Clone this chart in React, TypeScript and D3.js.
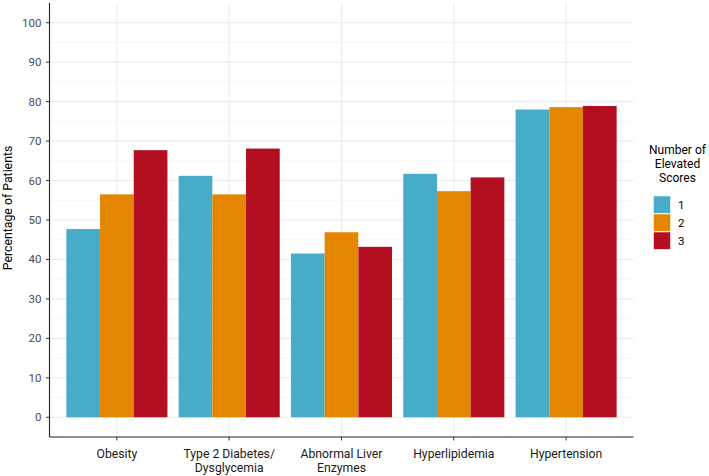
import React from "react";
import * as d3 from "d3";

const categories = ["Obesity", "Type 2 Diabetes/\nDysglycemia", "Abnormal Liver\nEnzymes", "Hyperlipidemia", "Hypertension"];
const groups = ["1", "2", "3"];
const series1 = [47.7, 61.2, 41.5, 61.7, 78.0];
const series2 = [56.5, 56.5, 46.9, 57.3, 78.6];
const series3 = [67.7, 68.1, 43.2, 60.8, 78.9];
const colors = ["#46ACC8", "#E58601", "#B40F20"];
const yTicks = [0, 10, 20, 30, 40, 50, 60, 70, 80, 90, 100];
const yMinor = [5, 15, 25, 35, 45, 55, 65, 75, 85, 95];

const W = 709, H = 476;
const left = 49.5, right = 633.5, top = 3, bottom = 437;

export default function App() {
  const seriesAll = [series1, series2, series3];
  const y = d3.scaleLinear().domain([-5, 105]).range([bottom, top]);
  const x = d3.scalePoint<string>().domain(categories).range([left, right]).padding(0.6);
  const step = x.step();
  const groupW = step * 0.9;
  const xg = d3.scaleBand<string>().domain(groups).range([-groupW / 2, groupW / 2]).padding(0);
  const font = "Roboto, 'Noto Sans', sans-serif";
  return (
    <svg width={W} height={H} style={{ position: "absolute", left: 0, top: 0, background: "#fff" }} fontFamily={font}>
      {/* grid */}
      {yMinor.map((v) => (
        <line key={"m" + v} x1={left} x2={right} y1={y(v)} y2={y(v)} stroke="#f2f2f2" strokeWidth={0.6} />
      ))}
      {yTicks.map((v) => (
        <line key={"g" + v} x1={left} x2={right} y1={y(v)} y2={y(v)} stroke="#ebebeb" strokeWidth={1.1} />
      ))}
      {categories.map((c) => (
        <line key={"v" + c} x1={x(c)} x2={x(c)} y1={top} y2={bottom} stroke="#ebebeb" strokeWidth={1.1} />
      ))}
      {/* bars */}
      {seriesAll.map((s, gi) =>
        s.map((v, ci) => (
          <rect
            key={gi + "-" + ci}
            x={(x(categories[ci]) as number) + (xg(groups[gi]) as number)}
            width={xg.bandwidth()}
            y={y(v)}
            height={y(0) - y(v)}
            fill={colors[gi]}
          />
        ))
      )}
      {/* axes */}
      <line x1={left} x2={left} y1={top} y2={bottom} stroke="#222" strokeWidth={1.1} />
      <line x1={left} x2={right} y1={bottom} y2={bottom} stroke="#222" strokeWidth={1.1} />
      {yTicks.map((v) => (
        <g key={"t" + v}>
          <line x1={left - 3.5} x2={left} y1={y(v)} y2={y(v)} stroke="#333" strokeWidth={1} />
          <text x={left - 8} y={y(v)} dy="0.35em" textAnchor="end" fontSize={11.5} fill="#4d4d4d">
            {v}
          </text>
        </g>
      ))}
      {categories.map((c) => (
        <g key={"xt" + c}>
          <line x1={x(c)} x2={x(c)} y1={bottom} y2={bottom + 3.5} stroke="#333" strokeWidth={1} />
          {c.split("\n").map((ln, i) => (
            <text key={i} x={x(c)} y={457.5 + i * 14} textAnchor="middle" fontSize={12.2} fill="#1a1a1a">
              {ln}
            </text>
          ))}
        </g>
      ))}
      <text transform={`translate(7.5,208) rotate(-90)`} textAnchor="middle" dy="0.35em" fontSize={12.3} fill="#000">
        Percentage of Patients
      </text>
      {/* legend */}
      {["Number of", "Elevated", "Scores"].map((t, i) => (
        <text key={t} x={677.5} y={149.5 + i * 14} dy="0.35em" textAnchor="middle" fontSize={12} fill="#000">
          {t}
        </text>
      ))}
      {groups.map((g, i) => (
        <g key={"l" + g}>
          <rect x={653.5} y={196 + i * 18} width={17} height={17.3} fill={colors[i]} stroke="#fff" strokeWidth={0.5} />
          <text x={678} y={196 + i * 18 + 8.7} dy="0.35em" fontSize={11.5} fill="#000">
            {g}
          </text>
        </g>
      ))}
    </svg>
  );
}
